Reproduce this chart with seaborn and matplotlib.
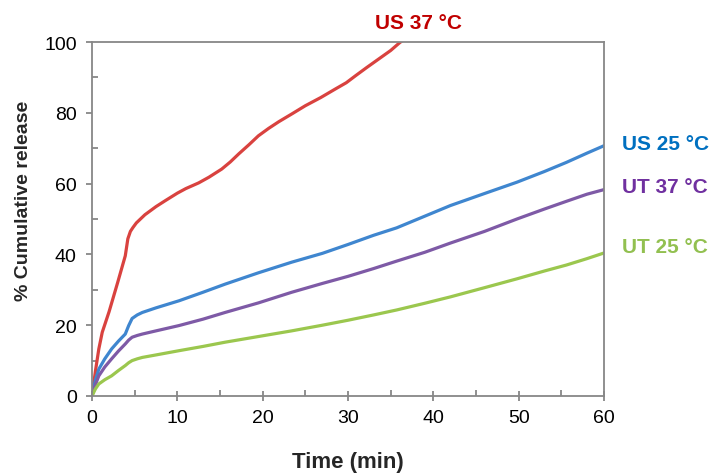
import matplotlib
matplotlib.use("Agg")
import matplotlib.pyplot as plt
from matplotlib.ticker import MultipleLocator
import seaborn as sns
import pandas as pd

# Release profiles (% cumulative release vs. time in minutes)
time_us37 = [0, 0.4, 0.8, 1.2, 2, 3, 3.9, 4.2, 4.5, 4.8, 5.2, 6.2, 7.5, 8.6,
             10, 11, 12.5, 13.7, 15.2, 16.2, 17.2, 18.4, 19.5, 20.7, 21.9,
             23.5, 25, 26.8, 28.5, 29.8, 30.9, 32.2, 33.6, 35, 36.1, 38]
us37 = [0, 7, 13.3, 18, 23.8, 32, 39.6, 44.4, 46.5, 47.6, 48.9, 51.2, 53.5,
        55.2, 57.3, 58.6, 60.2, 61.8, 64.1, 66.1, 68.4, 71, 73.5, 75.6, 77.5,
        79.8, 82, 84.3, 86.7, 88.5, 90.5, 92.8, 95.2, 97.6, 99.9, 103]

time_std = [0, 0.4, 0.8, 1.5, 2.3, 3.1, 3.9, 4.3, 4.7, 5.3, 5.9, 7.5, 10.2, 13,
            15.6, 19.5, 23.4, 27, 30, 33, 35.7, 39, 42, 46, 49.8, 53, 55.6,
            58, 60]
us25 = [0, 4.5, 7.6, 10.5, 13.3, 15.5, 17.5, 19.9, 21.9, 22.9, 23.6, 24.9,
        26.9, 29.3, 31.6, 34.8, 37.8, 40.3, 42.8, 45.4, 47.5, 50.8, 53.8, 57.2,
        60.4, 63.4, 66, 68.6, 70.7]
ut37 = [0, 3.2, 5.7, 8.2, 10.5, 12.7, 14.7, 15.8, 16.6, 17.1, 17.5, 18.4,
        19.9, 21.7, 23.6, 26.3, 29.3, 31.8, 33.8, 36.0, 38.1, 40.6, 43.2, 46.5,
        50, 52.8, 55.0, 57.0, 58.3]
ut25 = [0, 2.0, 3.4, 4.6, 5.7, 7.2, 8.6, 9.4, 10.0, 10.5, 10.9, 11.6, 12.8,
        14.0, 15.2, 16.8, 18.4, 20.0, 21.4, 22.9, 24.3, 26.2, 28.0, 30.6, 33.1,
        35.3, 37.0, 38.8, 40.4]

series_names = ["US 37 °C", "US 25 °C", "UT 37 °C", "UT 25 °C"]
line_colors = ["#D9423F", "#3F86CF", "#7E5AA6", "#9BC74E"]
label_colors = ["#C00000", "#0070C0", "#7030A0", "#92C050"]

frames = []
for name, t, v in [("US 37 °C", time_us37, us37), ("US 25 °C", time_std, us25),
                   ("UT 37 °C", time_std, ut37), ("UT 25 °C", time_std, ut25)]:
    frames.append(pd.DataFrame({"time": t, "release": v, "series": name}))
df = pd.concat(frames, ignore_index=True)

sns.set_theme(style="white")
plt.rcParams["font.family"] = ["Liberation Sans", "DejaVu Sans"]

fig = plt.figure(figsize=(7.14, 4.77), dpi=100)
ax = fig.add_axes([92 / 714, 1 - 397 / 477, (604 - 92) / 714, (397 - 43) / 477])

sns.lineplot(data=df, x="time", y="release", hue="series", sort=False,
             hue_order=series_names, palette=dict(zip(series_names, line_colors)),
             linewidth=2.3, legend=False, ax=ax)
for line in ax.get_lines():
    line.set_solid_joinstyle("round")
    line.set_solid_capstyle("round")

ax.set_xlim(0, 60)
ax.set_ylim(0, 100)
ax.xaxis.set_major_locator(MultipleLocator(10))
ax.xaxis.set_minor_locator(MultipleLocator(5))
ax.yaxis.set_major_locator(MultipleLocator(20))
ax.yaxis.set_minor_locator(MultipleLocator(10))

spine_color = "#878787"
for s in ax.spines.values():
    s.set_color(spine_color)
    s.set_linewidth(1.3)

ax.tick_params(axis="x", which="major", direction="inout", length=7, width=1.3,
               color=spine_color, labelsize=14, pad=6, labelcolor="black")
ax.tick_params(axis="x", which="minor", direction="in", length=4, width=1.3,
               color=spine_color)
ax.tick_params(axis="y", which="major", direction="out", length=4, width=1.3,
               color=spine_color, labelsize=14, pad=7, labelcolor="black")
ax.tick_params(axis="y", which="minor", direction="in", length=4, width=1.3,
               color=spine_color)
ax.xaxis.set_ticks_position("bottom")
ax.yaxis.set_ticks_position("left")

ax.set_xlabel("Time (min)", fontsize=16, fontweight="bold", labelpad=18)
ax.set_ylabel("% Cumulative release", fontsize=14, fontweight="bold")
ax.yaxis.set_label_coords(-0.118, 0.554)

# Series labels
label_pos = [(38.3, 105.6, "center"), (62.1, 71.2, "left"),
             (62.1, 59.3, "left"), (62.1, 42.1, "left")]
for name, color, (x, y, ha) in zip(series_names, label_colors, label_pos):
    ax.text(x, y, name, color=color, fontsize=15, fontweight="bold",
            ha=ha, va="center", clip_on=False)

fig.savefig("out.png", dpi=100)
